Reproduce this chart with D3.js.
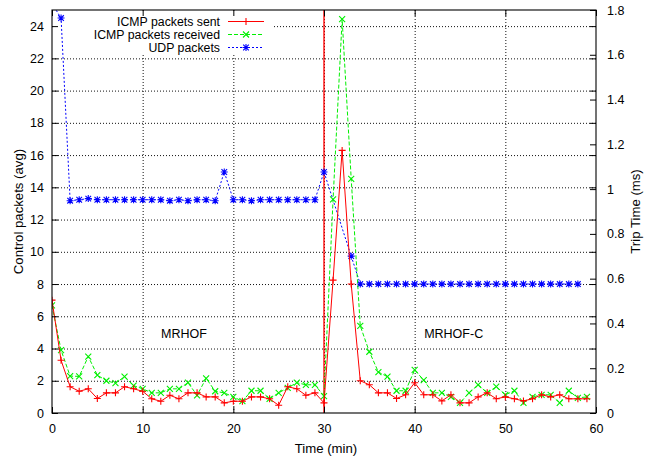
<!DOCTYPE html>
<html>
<head>
<meta charset="utf-8">
<script src="https://cdn.jsdelivr.net/npm/d3@7"></script>
<style>
  body { margin: 0; background: #fff; }
  svg { display: block; }
  text { font-family: "Liberation Sans", Arial, Helvetica, sans-serif; fill: #000; }
</style>
</head>
<body>
<svg id="chart" width="654" height="456"></svg>
<script>
// Minute index of the ICMP samples
const minutes = [0,1,2,3,4,5,6,7,8,9,10,11,12,13,14,15,16,17,18,19,
  20,21,22,23,24,25,26,27,28,29,30,31,32,33,34,35,36,37,38,39,
  40,41,42,43,44,45,46,47,48,49,50,51,52,53,54,55,56,57,58,59];

// ICMP packets sent (avg per minute)
const icmpSent = [7.0,3.27,1.63,1.35,1.5,0.9,1.25,1.25,1.63,1.5,
  1.35,0.88,0.73,1.1,0.88,1.25,1.25,1.0,1.0,0.63,
  0.73,0.73,1.0,1.0,0.88,0.48,1.63,1.5,1.1,1.25,
  0.63,8.24,16.29,8.0,2.0,1.75,1.25,1.25,0.9,1.13,
  1.88,1.13,1.13,0.75,1.13,0.63,0.63,1.0,1.25,0.88,
  1.0,0.88,0.75,0.88,1.13,1.0,1.13,0.88,0.88,0.88];

// ICMP packets received (avg per minute)
const icmpReceived = [6.67,3.9,2.29,2.27,3.5,2.35,2.0,1.85,2.25,1.7,
  1.5,1.25,1.25,1.5,1.5,1.88,1.1,2.15,1.35,1.25,
  1.0,0.73,1.38,1.38,0.88,1.25,1.56,1.88,1.75,1.75,
  1.05,13.25,24.43,14.53,5.4,3.8,2.54,2.25,1.38,1.38,
  2.67,2.04,1.25,1.25,1.0,0.63,1.25,1.75,1.25,1.63,
  1.13,1.38,0.63,1.0,1.13,1.13,0.63,1.38,0.94,1.0];

// UDP packets (no samples at minutes 31 and 32)
const udpMinutes = [0,1,2,3,4,5,6,7,8,9,10,11,12,13,14,15,16,17,18,19,
  20,21,22,23,24,25,26,27,28,29,30,33,34,35,36,37,38,39,
  40,41,42,43,44,45,46,47,48,49,50,51,52,53,54,55,56,57,58];
const udpPackets = [25.4,24.5,13.17,13.23,13.3,13.23,13.23,13.23,13.23,13.23,
  13.23,13.23,13.23,13.17,13.23,13.17,13.23,13.23,13.17,14.95,
  13.23,13.23,13.17,13.23,13.23,13.23,13.23,13.23,13.23,13.23,
  14.95,9.73,8.0,8.0,8.0,8.0,8.0,8.0,
  8.0,8.0,8.0,8.0,8.0,8.0,8.0,8.0,8.0,8.0,8.0,8.0,8.0,8.0,8.0,8.0,8.0,8.0,8.0];

// Axis ticks
const xTicks = [0,10,20,30,40,50,60];
const yTicks = [0,2,4,6,8,10,12,14,16,18,20,22,24];
const y2Ticks = [0,0.2,0.4,0.6,0.8,1,1.2,1.4,1.6,1.8];

// Minute at which the objective function is switched
const switchMinute = 30;
const phaseLabels = ["MRHOF", "MRHOF-C"];
const seriesNames = ["ICMP packets sent", "ICMP packets received", "UDP packets"];

const svg = d3.select("#chart");
const L = 52, R = 596, T = 10, B = 413;

const x = d3.scaleLinear().domain([0, 60]).range([L, R]);
const y = d3.scaleLinear().domain([0, 25]).range([B, T]);
const y2 = d3.scaleLinear().domain([0, 1.8]).range([B, T]);

// Grid
const grid = svg.append("g").attr("class", "grid");
grid.append("g").attr("transform", `translate(0,${B})`)
  .call(d3.axisBottom(x).tickValues(xTicks.slice(1, -1)).tickSize(-(B - T)).tickFormat(""));
grid.append("g").attr("transform", `translate(${L},0)`)
  .call(d3.axisLeft(y).tickValues(yTicks.slice(1)).tickSize(-(R - L)).tickFormat(""));
grid.selectAll(".domain").remove();
grid.selectAll("line").attr("stroke", "#111").attr("stroke-width", 1).attr("stroke-dasharray", "1,2");

// Key background
svg.append("rect").attr("x", L + 1).attr("y", T + 1).attr("width", 219).attr("height", 43).attr("fill", "#fff");

// Switch marker
svg.append("line")
  .attr("x1", x(switchMinute)).attr("x2", x(switchMinute))
  .attr("y1", T).attr("y2", B)
  .attr("stroke", "#ff0000").attr("stroke-width", 1.6).attr("stroke-opacity", 0.85);

// Clip
svg.append("clipPath").attr("id", "plotClip")
  .append("rect").attr("x", L).attr("y", T).attr("width", R - L).attr("height", B - T);

const plot = svg.append("g").attr("clip-path", "url(#plotClip)");

const plusPath = s => `M${-s},0H${s}M0,${-s}V${s}`;
const crossPath = s => `M${-s},${-s}L${s},${s}M${-s},${s}L${s},${-s}`;
const starPath = s => plusPath(s) + crossPath(s * 0.8);

const series = [
  { name: seriesNames[0], xs: minutes, ys: icmpSent, color: "#ff0000", dash: null, marker: plusPath(3.5) },
  { name: seriesNames[1], xs: minutes, ys: icmpReceived, color: "#00f000", dash: "4,2", marker: crossPath(3) },
  { name: seriesNames[2], xs: udpMinutes, ys: udpPackets, color: "#0000ff", dash: "2,2", marker: starPath(3.5) }
];

const line = d3.line().x(d => x(d[0])).y(d => y(d[1]));

// Draw order: UDP first, then received, then sent on top
[series[2], series[1], series[0]].forEach(s => {
  const pts = s.xs.map((m, i) => [m, s.ys[i]]);
  plot.append("path").datum(pts)
    .attr("d", line)
    .attr("fill", "none")
    .attr("stroke", s.color)
    .attr("stroke-width", 1)
    .attr("stroke-dasharray", s.dash);
  plot.append("g").selectAll("path").data(pts).join("path")
    .attr("transform", d => `translate(${x(d[0])},${y(d[1])})`)
    .attr("d", s.marker)
    .attr("fill", "none")
    .attr("stroke", s.color)
    .attr("stroke-width", 1.1);
});

// Axes (inward ticks)
const fontSize = "12.5px";
const titleSize = "13.2px";
const styleAxis = g => {
  g.select(".domain").remove();
  g.selectAll("line").attr("stroke", "#000");
  g.selectAll("text").style("font-size", fontSize).attr("fill", "#000");
};
svg.append("g").attr("transform", `translate(0,${B})`)
  .call(d3.axisBottom(x).tickValues(xTicks).tickSize(-6).tickPadding(11).tickFormat(d3.format("d")))
  .call(styleAxis);
svg.append("g").attr("transform", `translate(0,${T})`)
  .call(d3.axisTop(x).tickValues(xTicks).tickSize(-6).tickFormat(""))
  .call(styleAxis);
svg.append("g").attr("transform", `translate(${L},0)`)
  .call(d3.axisLeft(y).tickValues(yTicks).tickSize(-6).tickPadding(8).tickFormat(d3.format("d")))
  .call(styleAxis);
svg.append("g").attr("transform", `translate(${R},0)`)
  .call(d3.axisRight(y).tickValues(yTicks).tickSize(-6).tickFormat(""))
  .call(styleAxis);
svg.append("g").attr("transform", `translate(${R},0)`)
  .call(d3.axisRight(y2).tickValues(y2Ticks).tickSize(-6).tickPadding(11).tickFormat(d3.format("~g")))
  .call(styleAxis);

// Frame
svg.append("rect").attr("x", L).attr("y", T).attr("width", R - L).attr("height", B - T)
  .attr("fill", "none").attr("stroke", "#000").attr("stroke-width", 1.1);

// Axis titles
svg.append("text").attr("transform", `translate(18,${(T + B) / 2}) rotate(-90)`)
  .attr("text-anchor", "middle").attr("dy", "0.35em").style("font-size", titleSize)
  .text("Control packets (avg)");
svg.append("text").attr("transform", `translate(635,${(T + B) / 2}) rotate(-90)`)
  .attr("text-anchor", "middle").attr("dy", "0.35em").style("font-size", titleSize)
  .text("Trip Time (ms)");
svg.append("text").attr("x", (L + R) / 2 + 2).attr("y", 453)
  .attr("text-anchor", "middle").style("font-size", titleSize)
  .text("Time (min)");

// Phase labels
svg.append("text").attr("x", x(14.55)).attr("y", y(4.95)).attr("dy", "0.35em")
  .attr("text-anchor", "middle").style("font-size", fontSize).text(phaseLabels[0]);
svg.append("text").attr("x", x(44.3)).attr("y", y(4.95)).attr("dy", "0.35em")
  .attr("text-anchor", "middle").style("font-size", fontSize).text(phaseLabels[1]);

// Key
const key = svg.append("g");
series.forEach((s, i) => {
  const ky = 21.5 + i * 13;
  key.append("text").attr("x", 220).attr("y", ky).attr("dy", "0.35em")
    .attr("text-anchor", "end").style("font-size", "12.3px").text(s.name);
  key.append("line").attr("x1", 228).attr("x2", 264).attr("y1", ky).attr("y2", ky)
    .attr("stroke", s.color).attr("stroke-width", 1).attr("stroke-dasharray", s.dash);
  key.append("path").attr("transform", `translate(246,${ky})`).attr("d", s.marker)
    .attr("fill", "none").attr("stroke", s.color).attr("stroke-width", 1.1);
});
</script>
</body>
</html>
